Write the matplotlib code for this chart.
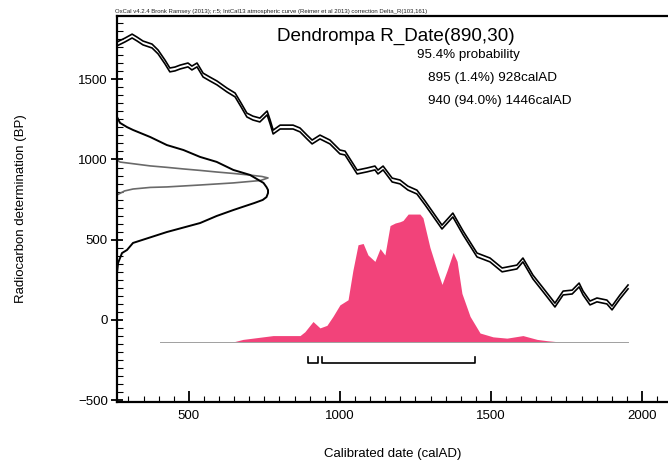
# OxCal style calibration plot: Dendrompa R_Date(890,30)
import matplotlib.pyplot as plt
import numpy as np
from matplotlib import font_manager
from matplotlib.ticker import MultipleLocator

plt.rcParams['font.family'] = ['Liberation Sans', 'DejaVu Sans']

# calibration curve (IntCal13 + Delta_R)
curve_year = [262, 288, 312, 328, 348, 378, 398, 421, 437, 454, 471, 497, 510, 527,
              547, 570, 593, 626, 653, 673, 692, 712, 735, 759, 769, 779, 802, 845,
              868, 891, 908, 934, 967, 1000, 1017, 1057, 1090, 1116, 1126, 1143, 1173,
              1199, 1225, 1255, 1282, 1338, 1374, 1408, 1454, 1497, 1537, 1586, 1606,
              1639, 1673, 1712, 1739, 1769, 1792, 1805, 1828, 1851, 1884, 1901, 1927, 1954]
curve_bp = [1720, 1744, 1769, 1751, 1726, 1707, 1670, 1607, 1558, 1564, 1576, 1589, 1570, 1589,
            1526, 1501, 1477, 1433, 1402, 1339, 1277, 1258, 1246, 1290, 1234, 1171, 1202, 1202,
            1184, 1140, 1109, 1140, 1109, 1047, 1040, 922, 935, 947, 922, 947, 872,
            860, 822, 797, 729, 579, 654, 542, 405, 374, 312, 330, 374,
            268, 187, 93, 168, 174, 218, 168, 106, 125, 112, 75, 143, 206]
curve_halfwidth = 12

# radiocarbon determination after Delta_R (BP, relative height)
date_bp = [1352, 1320, 1265, 1228, 1202, 1184, 1140, 1090, 1059, 1016, 985, 935,
           904, 854, 828, 810, 791, 766, 748, 729, 704, 685, 648, 604, 548,
           480, 436, 417, 355, 293, 249]
date_h = [0.0, 0.0, 0.0, 0.02, 0.066, 0.106, 0.22, 0.33, 0.44, 0.55, 0.66, 0.77,
          0.88, 0.97, 0.99, 1.0, 1.0, 0.99, 0.965, 0.91, 0.83, 0.77, 0.66, 0.55, 0.33,
          0.106, 0.066, 0.033, 0.007, 0.0, 0.0]
# uncorrected radiocarbon date (BP, relative height)
raw_bp = [997, 984, 972, 960, 951, 941, 932, 922, 913, 903, 894, 885,
          869, 854, 841, 829, 826, 816, 804, 779]
raw_h = [0.0, 0.02, 0.12, 0.22, 0.33, 0.44, 0.55, 0.66, 0.77, 0.88, 0.96, 1.0,
         0.95, 0.77, 0.55, 0.33, 0.22, 0.106, 0.05, 0.0]

# calibrated probability distribution (calAD, relative height)
cal_year = [646, 679, 779, 835, 868, 884, 911, 934, 957, 977, 1000, 1027, 1043, 1060,
            1077, 1093, 1116, 1133, 1149, 1166, 1183, 1199, 1209, 1226, 1265, 1275,
            1298, 1322, 1338, 1355, 1375, 1388, 1404, 1431, 1464, 1507, 1553, 1606,
            1653, 1686, 1729]
cal_h = [0.0, 0.02, 0.05, 0.05, 0.05, 0.08, 0.16, 0.11, 0.13, 0.20, 0.29, 0.33, 0.56, 0.76,
         0.77, 0.68, 0.63, 0.73, 0.68, 0.91, 0.93, 0.94, 0.95, 1.0, 1.0, 0.97,
         0.74, 0.56, 0.45, 0.56, 0.70, 0.63, 0.38, 0.20, 0.07, 0.04, 0.03, 0.05,
         0.02, 0.01, 0.0]
cal_span = [404, 1954]

# 95.4% ranges
range_start = [895, 940]
range_end = [928, 1446]
range_text = ['895 (1.4%) 928calAD', '940 (94.0%) 1446calAD']


def narrow_family():
    try:
        font_manager.findfont('Liberation Sans Narrow', fallback_to_default=False)
        return 'Liberation Sans Narrow', 5.3
    except ValueError:
        return 'Liberation Sans', 4.3


fig = plt.figure(figsize=(6.68, 4.68), dpi=100)
ax = fig.add_axes([117 / 668, 66 / 468, 563 / 668, 386 / 468])
ax.set_xlim(262, 2126)
ax.set_ylim(-511, 1894)

# calibration curve as double line
mid = np.array(curve_bp)
ax.plot(curve_year, mid + curve_halfwidth, color='black', lw=1.2)
ax.plot(curve_year, mid - curve_halfwidth, color='black', lw=1.2)

# radiocarbon profiles along the y axis
xmin = 262
peak_w = 500
ax.plot(xmin + peak_w * np.array(raw_h), raw_bp, color='#6a6a6a', lw=1.2)
ax.plot(xmin + peak_w * np.array(date_h), date_bp, color='black', lw=1.4)

# calibrated distribution
base = -137
scale = 797
ax.plot(cal_span, [base, base], color='#a0a0a0', lw=0.7)
ax.fill_between(cal_year, base, base + scale * np.array(cal_h),
                color='#f2437a', lw=0)

# range brackets
for s, e in zip(range_start, range_end):
    ax.plot([s, s, e, e], [-230, -268, -268, -230], color='black', lw=1.2)

# ticks and frame
ax.xaxis.set_major_locator(MultipleLocator(500))
ax.xaxis.set_minor_locator(MultipleLocator(50))
ax.yaxis.set_major_locator(MultipleLocator(500))
ax.yaxis.set_minor_locator(MultipleLocator(50))
ax.tick_params(axis='x', which='major', direction='in', length=8, width=1.3,
               labelsize=9.5, pad=6)
ax.tick_params(axis='x', which='minor', direction='in', length=4, width=0.8)
ax.tick_params(axis='y', which='major', direction='inout', length=9, width=1.3,
               labelsize=9.5, pad=2)
ax.tick_params(axis='y', which='minor', direction='in', length=4, width=0.8)
for sp in ax.spines.values():
    sp.set_linewidth(1.6)

ax.set_xlabel('Calibrated date (calAD)', fontsize=9.5)
ax.xaxis.set_label_coords(0.49, -0.118)
ax.set_ylabel('Radiocarbon determination (BP)', fontsize=9.5)
ax.yaxis.set_label_coords(-0.16, 0.5)

fam, size = narrow_family()
fig.text(115 / 668, 1 - 11 / 468,
         'OxCal v4.2.4 Bronk Ramsey (2013); r:5; IntCal13 atmospheric curve '
         '(Reimer et al 2013) correction Delta_R(103,161)',
         family=[fam, 'DejaVu Sans'], fontsize=size, ha='left', va='center',
         color='#222222')

fig.text(277 / 668, 1 - 36 / 468, 'Dendrompa R_Date(890,30)',
         fontsize=13.6, ha='left', va='center')
fig.text(417 / 668, 1 - 55 / 468, '95.4% probability',
         fontsize=9.6, ha='left', va='center')
for i, t in enumerate(range_text):
    fig.text(428 / 668, 1 - (78 + 23 * i) / 468, t,
             fontsize=9.7, ha='left', va='center')

fig.savefig('out.png', dpi=100)
